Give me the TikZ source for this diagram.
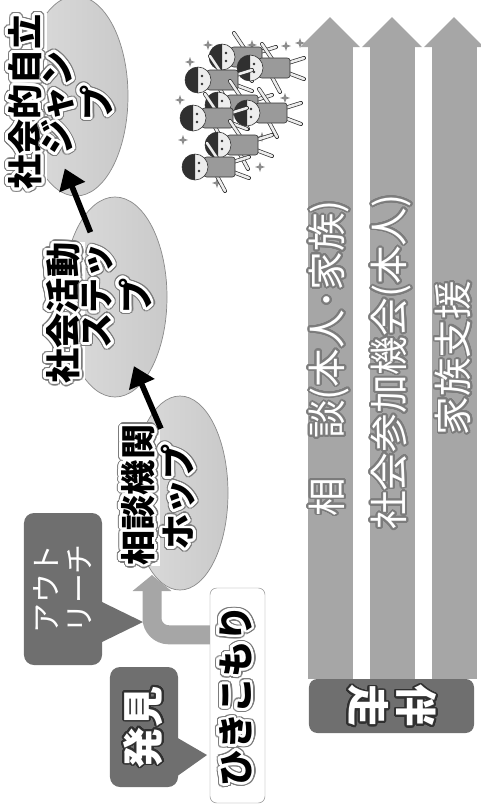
\documentclass[tikz,border=0pt]{standalone}
\usepackage{fontspec}
\setmainfont{Noto Sans CJK JP}
\usepackage{contour}
\contournumber{32}
\usetikzlibrary{arrows.meta,shapes.geometric}

\definecolor{panel}{HTML}{6F6F6F}
\definecolor{band}{HTML}{A6A6A6}
\definecolor{rim}{HTML}{8A8A8A}
\definecolor{ring}{HTML}{7C7C7C}
\definecolor{skin}{HTML}{EDEDED}
\definecolor{shirt}{HTML}{9A9A9A}
\definecolor{hair}{HTML}{303030}

% black letters, white ring, grey rim
\newcommand{\halo}[1]{\leavevmode\rlap{\color{ring}\contourlength{3.4pt}\contour{ring}{#1}}\contourlength{2.3pt}\contour{white}{#1}}
% white letters with a thin rim
\newcommand{\whitetext}[2]{{\color{white}\contourlength{1.5pt}\contour{#1}{#2}}}

\begin{document}
\begin{tikzpicture}[x=0.03cm,y=-0.03cm,
  stage/.style={ellipse, draw=rim, line width=0.6pt, left color=black!14, right color=black!21,
    minimum width=3.12cm, minimum height=6cm},
  stageline/.style={rotate=90, fill=white, inner sep=1pt, font=\fontsize{30}{31}\selectfont\bfseries},
  stagetext/.style={rotate=90, align=center, inner sep=0pt, font=\fontsize{30}{31}\selectfont\bfseries},
  stepArrow/.style={line width=0.17cm, -{Triangle[width=0.8cm,length=0.6cm]}},
  course/.style={draw=band, line width=1.35cm, -{Triangle[width=1.74cm,length=0.9cm]}},
  courselabel/.style={rotate=90, inner sep=0pt, font=\fontsize{33}{35}\selectfont},
  talk/.style={rotate=90, fill=panel, rounded corners=0.3cm, align=center},
  outArrow/.style={draw=band, line width=0.57cm, rounded corners=0.5cm, -{Triangle[width=1.14cm,length=0.48cm]}},
]
\useasboundingbox (0,0) rectangle (481,805);

% hop, step, jump
\node[stage] (jump) at (76,96) {};
\node[stage] (step) at (115,297) {};
\node[stage, minimum width=2.88cm, minimum height=5.82cm] (hop) at (180,493) {};

\node[stageline] (jumpA) at (27,102) {\halo{社会的自立}};
\node[stageline] (stepA) at (65,313) {\halo{社会活動}};
\node[stageline] (hopA) at (140,495) {\halo{相談機関}};

\draw[stepArrow, shorten <=-0.56cm, shorten >=-0.57cm] (hop.108) -- (step.287);
\draw[stepArrow, shorten <=-0.52cm, shorten >=-0.9cm] (step.111) -- (jump.270);

\node[stagetext] (jumpB) at (79,103) {\halo{ジャン}\\\halo{プ}};
\node[stagetext] (stepB) at (119,296) {\halo{ステッ}\\\halo{プ}};
\node[stagetext] (hopB) at (180,497) {\halo{ホップ}};

% support running alongside
\node[rotate=-90, fill=panel, rounded corners=0.25cm, minimum width=1.62cm, minimum height=4.95cm,
  align=center, font=\fontsize{36}{41}\selectfont\bfseries] (run) at (391.5,706)
  {\whitetext{hair}{伴}\\\whitetext{hair}{走}};

\coordinate (tipA) at (330,17);
\coordinate (tipB) at (392,17);
\coordinate (tipC) at (454,17);
\draw[course] (tipA |- run.west) -- (tipA);
\draw[course] (tipB |- run.west) -- (tipB);
\draw[course] (tipC |- run.west) -- (tipC);

\node[courselabel] (laneA) at (330,358) {\whitetext{ring}{相　談(本人･家族)}};
\node[courselabel] (laneB) at (392,362) {\whitetext{ring}{社会参加機会(本人)}};
\node[courselabel] (laneC) at (454,358) {\whitetext{ring}{家族支援}};

% finding and outreach
\node[rotate=90, draw=rim, fill=white, rounded corners=0.2cm, minimum width=6.45cm, minimum height=1.65cm,
  font=\fontsize{31}{33}\selectfont\bfseries] (hiki) at (237.5,695.5) {\halo{ひきこもり}};
\coordinate (reach) at (152,575);
\draw[outArrow] ([yshift=-1.41cm]hiki.north east) -| (reach);

\fill[panel] (100,601) -- (143,622) -- (100,643) -- cycle;
\node[talk, minimum width=4.56cm, minimum height=2.34cm, font=\fontsize{25.5}{28}\selectfont,
  text=white] (outreach) at (63,589) {アウト\\リーチ};

\fill[panel] (176,737) -- (207,755) -- (176,777) -- cycle;
\node[talk, minimum width=3.6cm, minimum height=2.04cm, font=\fontsize{35}{37}\selectfont\bfseries]
  (found) at (144,727) {\whitetext{hair}{発見}};

% sparkles around the children
\foreach \sx/\sy in {208/45,252/45,286/46,190/62,180/100,285/98,183/140,262/137,260/167,217/183,300/43}
  \fill[black!45] (\sx,\sy-5) -- (\sx+1.3,\sy-1.3) -- (\sx+5,\sy) -- (\sx+1.3,\sy+1.3) -- (\sx,\sy+5)
    -- (\sx-1.3,\sy+1.3) -- (\sx-5,\sy) -- (\sx-1.3,\sy-1.3) -- cycle;

% children in a huddle
\foreach \hx/\hy in {222/57,250/68,198/80,218/105,247/113,193/118,218/145,195/167}{
  \draw[hair, line width=3.4pt, line cap=round] (\hx+22,\hy-9) -- (\hx+12,\hy-24) (\hx+22,\hy+9) -- (\hx+30,\hy+24)
    (\hx+38,\hy-5) -- (\hx+54,\hy-10) (\hx+38,\hy+5) -- (\hx+54,\hy+11);
  \draw[skin, line width=2.2pt, line cap=round] (\hx+22,\hy-9) -- (\hx+12,\hy-24) (\hx+22,\hy+9) -- (\hx+30,\hy+24)
    (\hx+38,\hy-5) -- (\hx+54,\hy-10) (\hx+38,\hy+5) -- (\hx+54,\hy+11);
  \draw[hair, fill=shirt, line width=0.5pt, rounded corners=0.08cm] (\hx+9,\hy-10) rectangle (\hx+40,\hy+10);
  \draw[hair, fill=skin, line width=0.5pt] (\hx,\hy) circle[radius=0.39cm];
  \fill[hair] (\hx,\hy) ++(0,-13) arc[start angle=90, end angle=270, radius=0.39cm] -- cycle;
  \fill[hair] (\hx+4,\hy-4) circle[radius=0.04cm] (\hx+4,\hy+4) circle[radius=0.04cm];
}
\end{tikzpicture}
\end{document}
